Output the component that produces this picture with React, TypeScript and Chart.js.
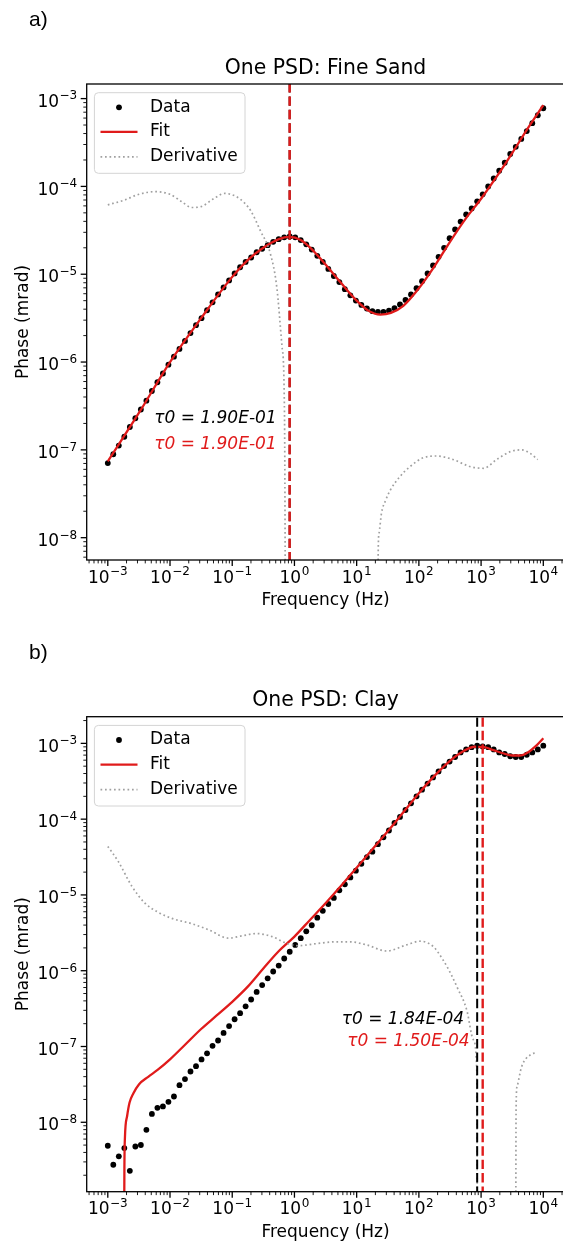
import React, { useEffect, useRef } from 'react';
import { Chart, registerables } from 'chart.js';

Chart.register(...registerables);

// ---------- data ----------
const FREQ = [
  1.000e-3, 1.226e-3, 1.504e-3, 1.844e-3, 2.262e-3, 2.774e-3, 3.402e-3, 4.172e-3, 5.116e-3, 6.274e-3,
  7.694e-3, 9.435e-3, 1.157e-2, 1.419e-2, 1.740e-2, 2.134e-2, 2.617e-2, 3.210e-2, 3.936e-2, 4.827e-2,
  5.920e-2, 7.260e-2, 8.903e-2, 0.1092, 0.1339, 0.1642, 0.2014, 0.2469, 0.3028, 0.3714,
  0.4554, 0.5585, 0.6849, 0.8396, 1.030, 1.263, 1.549, 1.899, 2.329, 2.856,
  3.503, 4.296, 5.268, 6.460, 7.922, 9.715, 11.91, 14.61, 17.92, 21.97,
  26.95, 33.05, 40.53, 49.70, 60.95, 74.74, 91.66, 112.4, 137.9, 169.0,
  207.3, 254.2, 311.7, 382.3, 468.8, 574.9, 705.0, 864.6, 1060, 1300,
  1595, 1956, 2398, 2941, 3607, 4423, 5425, 6652, 8158, 10000,
];

const SAND_DATA = [
  7.08e-8, 8.91e-8, 1.12e-7, 1.41e-7, 1.82e-7, 2.29e-7, 2.88e-7, 3.63e-7, 4.68e-7, 5.89e-7,
  7.41e-7, 9.33e-7, 1.15e-6, 1.41e-6, 1.74e-6, 2.14e-6, 2.63e-6, 3.16e-6, 3.89e-6, 4.79e-6,
  5.89e-6, 7.08e-6, 8.51e-6, 1.02e-5, 1.20e-5, 1.38e-5, 1.55e-5, 1.78e-5, 1.95e-5, 2.14e-5,
  2.34e-5, 2.51e-5, 2.63e-5, 2.69e-5, 2.63e-5, 2.45e-5, 2.19e-5, 1.91e-5, 1.62e-5, 1.38e-5,
  1.15e-5, 9.55e-6, 8.13e-6, 6.76e-6, 5.75e-6, 5.01e-6, 4.47e-6, 4.07e-6, 3.80e-6, 3.72e-6,
  3.72e-6, 3.85e-6, 4.10e-6, 4.52e-6, 5.10e-6, 5.89e-6, 6.92e-6, 8.32e-6, 1.02e-5, 1.26e-5,
  1.58e-5, 2.00e-5, 2.57e-5, 3.24e-5, 3.98e-5, 4.79e-5, 5.62e-5, 6.76e-5, 8.13e-5, 1.00e-4,
  1.23e-4, 1.51e-4, 1.86e-4, 2.34e-4, 2.82e-4, 3.47e-4, 4.27e-4, 5.25e-4, 6.46e-4, 7.76e-4,
];

const SAND_FIT_F = [
  1.0e-3, 3.162e-3, 1.0e-2, 3.162e-2, 0.1, 0.1778, 0.3162, 0.5623, 0.8318, 1.259,
  1.995, 3.162, 5.623, 10, 15.85, 23.99, 35.48, 56.23, 100, 177.8,
  316.2, 562.3, 1000, 1778, 3162, 5623, 10000,
];
const SAND_FIT = [
  7.41e-8, 2.63e-7, 1.00e-6, 3.16e-6, 9.33e-6, 1.45e-5, 2.00e-5, 2.51e-5, 2.66e-5, 2.45e-5,
  1.86e-5, 1.29e-5, 7.94e-6, 5.01e-6, 3.80e-6, 3.47e-6, 3.63e-6, 4.37e-6, 6.92e-6, 1.23e-5,
  2.34e-5, 4.27e-5, 7.24e-5, 1.29e-4, 2.40e-4, 4.57e-4, 8.41e-4,
];

const SAND_DER_F = [
  1.000e-3, 1.778e-3, 3.162e-3, 5.623e-3, 1.000e-2, 1.585e-2, 2.239e-2, 3.162e-2, 5.012e-2, 7.586e-2,
  0.1122, 0.1585, 0.1995, 0.2818, 0.4074, 0.5188, 0.6310, 0.6918, 0.7244, 3.0,
  21.8, 22.2, 22.9, 25.1, 29.5, 34.67, 50.12, 72.44, 117.5, 195.0,
  354.8, 660.7, 1096, 1778, 2951, 4467, 6166, 8128,
];
const SAND_DER = [
  6.17e-5, 6.92e-5, 8.13e-5, 8.71e-5, 8.13e-5, 6.61e-5, 5.75e-5, 5.89e-5, 7.24e-5, 8.32e-5,
  7.76e-5, 6.46e-5, 5.25e-5, 3.16e-5, 1.74e-5, 7.24e-6, 1.51e-6, 2.63e-7, 1e-10, null,
  1e-10, 6.9e-9, 1.12e-8, 1.91e-8, 2.70e-8, 3.47e-8, 5.01e-8, 6.46e-8, 8.13e-8, 8.51e-8,
  7.76e-8, 6.46e-8, 6.17e-8, 7.76e-8, 9.55e-8, 1.00e-7, 9.12e-8, 7.76e-8,
];

const CLAY_DATA = [
  4.90e-9, 2.75e-9, 3.55e-9, 4.57e-9, 2.29e-9, 4.79e-9, 5.01e-9, 7.94e-9, 1.29e-8, 1.55e-8,
  1.62e-8, 1.86e-8, 2.19e-8, 3.09e-8, 3.72e-8, 4.68e-8, 5.50e-8, 6.76e-8, 8.13e-8, 1.02e-7,
  1.20e-7, 1.51e-7, 1.86e-7, 2.29e-7, 2.75e-7, 3.39e-7, 4.17e-7, 5.25e-7, 6.46e-7, 7.94e-7,
  9.77e-7, 1.17e-6, 1.45e-6, 1.78e-6, 2.19e-6, 2.69e-6, 3.31e-6, 3.98e-6, 5.01e-6, 6.17e-6,
  7.59e-6, 9.12e-6, 1.15e-5, 1.38e-5, 1.70e-5, 2.09e-5, 2.57e-5, 3.16e-5, 3.72e-5, 4.68e-5,
  5.75e-5, 7.08e-5, 8.91e-5, 1.07e-4, 1.32e-4, 1.62e-4, 2.00e-4, 2.45e-4, 2.95e-4, 3.55e-4,
  4.27e-4, 5.01e-4, 5.75e-4, 6.61e-4, 7.59e-4, 8.32e-4, 8.91e-4, 9.33e-4, 9.12e-4, 8.91e-4,
  8.32e-4, 7.59e-4, 7.24e-4, 6.76e-4, 6.61e-4, 6.61e-4, 7.08e-4, 7.59e-4, 8.32e-4, 9.33e-4,
];

const CLAY_FIT_F = [
  1.820e-3, 1.849e-3, 1.884e-3, 2.042e-3, 2.239e-3, 2.570e-3, 3.162e-3, 4.467e-3, 6.310e-3, 1.0e-2,
  1.778e-2, 3.162e-2, 5.623e-2, 0.1, 0.1778, 0.3162, 0.5623, 1.0, 1.778, 3.162,
  5.623, 10, 17.78, 31.62, 56.23, 100, 177.8, 316.2, 501.2, 794.3,
  1122, 1585, 2239, 3162, 4169, 5623, 7943, 10000,
];
const CLAY_FIT = [
  1e-10, 2.51e-9, 6.17e-9, 1.20e-8, 1.82e-8, 2.40e-8, 3.16e-8, 3.98e-8, 4.90e-8, 6.76e-8,
  1.07e-7, 1.70e-7, 2.57e-7, 3.89e-7, 6.17e-7, 1.07e-6, 1.82e-6, 2.82e-6, 4.68e-6, 7.76e-6,
  1.32e-5, 2.29e-5, 3.98e-5, 6.92e-5, 1.23e-4, 2.19e-4, 3.72e-4, 5.89e-4, 7.76e-4, 9.02e-4,
  8.91e-4, 8.13e-4, 7.41e-4, 6.92e-4, 6.92e-4, 7.59e-4, 9.55e-4, 1.17e-3,
];

const CLAY_DER_F = [
  1.000e-3, 1.479e-3, 2.455e-3, 3.981e-3, 6.166e-3, 1.072e-2, 2.239e-2, 4.169e-2, 8.710e-2, 0.1413,
  0.2455, 0.4365, 0.7079, 1.148, 2.399, 4.266, 7.943, 14.45, 30.20, 63.10,
  104.7, 169.8, 245.5, 331.1, 407.4, 588.8, 749.9, 851.1, 881.0, 2000,
  3589, 3650, 3800, 4467, 6166, 7762,
];
const CLAY_DER = [
  4.37e-5, 2.75e-5, 1.29e-5, 7.76e-6, 6.03e-6, 4.90e-6, 4.17e-6, 3.47e-6, 2.69e-6, 2.88e-6,
  3.09e-6, 2.82e-6, 2.34e-6, 2.14e-6, 2.29e-6, 2.40e-6, 2.40e-6, 2.19e-6, 1.82e-6, 2.19e-6,
  2.45e-6, 2.09e-6, 1.38e-6, 8.91e-7, 6.17e-7, 3.02e-7, 1.23e-7, 4.90e-8, 1e-11, null,
  1e-11, 1.5e-8, 3.0e-8, 5.37e-8, 7.76e-8, 8.32e-8,
];

const TAU_SAND = [1.90e-1, 1.90e-1]; // [data, fit]
const TAU_CLAY = [1.84e-4, 1.50e-4];

const X_LIMITS = [4.581e-4, 2.183e4];
const Y_LIMITS_SAND = [5.57e-9, 1.466e-3];
const Y_LIMITS_CLAY = [1.213e-9, 2.249e-3];
const NOTE_Y = [2.29e-7, 1.15e-7];

const LEGEND_LABELS = ['Data', 'Fit', 'Derivative'];

// ---------- styling ----------
const FONT = "'DejaVu Sans', sans-serif";
const FS = 17;
const SFS = 12;
const TFS = 20.4;
const RED = '#e01b1b';
const GREY = '#a0a0a0';

const tauToFreq = (t: number) => 1 / (2 * Math.PI * t);

function drawPow(ctx: CanvasRenderingContext2D, e: number, x: number, baseY: number, align: string) {
  const sup = (e < 0 ? '\u2212' : '') + Math.abs(e);
  ctx.font = `${FS}px ${FONT}`;
  const wb = ctx.measureText('10').width;
  ctx.font = `${SFS}px ${FONT}`;
  const ws = ctx.measureText(sup).width;
  const w = wb + ws + 0.5;
  const x0 = align === 'center' ? x - w / 2 : x - w;
  ctx.textAlign = 'left';
  ctx.textBaseline = 'alphabetic';
  ctx.fillStyle = '#000';
  ctx.font = `${FS}px ${FONT}`;
  ctx.fillText('10', x0, baseY);
  ctx.font = `${SFS}px ${FONT}`;
  ctx.fillText(sup, x0 + wb + 0.5, baseY - 7.3);
}

function logTicks(min: number, max: number) {
  const out: { v: number; e: number; major: boolean }[] = [];
  for (let e = Math.floor(Math.log10(min)); e <= Math.ceil(Math.log10(max)); e++) {
    for (let m = 1; m < 10; m++) {
      const v = m * Math.pow(10, e);
      if (v >= min && v <= max) out.push({ v, e, major: m === 1 });
    }
  }
  return out;
}

function drawDecor(chart: any, p: any) {
  const { ctx, chartArea: ca } = chart;
  const xs = chart.scales.x;
  const ys = chart.scales.y;
  ctx.save();

  // annotations
  ctx.font = `italic ${FS}px ${FONT}`;
  ctx.textAlign = 'right';
  ctx.textBaseline = 'middle';
  p.notes.forEach((n: any) => {
    ctx.fillStyle = n.color;
    ctx.fillText(n.text, xs.getPixelForValue(n.f) - 13, ys.getPixelForValue(n.y));
  });

  // spines
  ctx.strokeStyle = '#000';
  ctx.lineWidth = 1.3;
  ctx.strokeRect(ca.left, ca.top, ca.right - ca.left, ca.bottom - ca.top);

  // x ticks
  logTicks(xs.min, xs.max).forEach((t) => {
    const px = xs.getPixelForValue(t.v);
    ctx.beginPath();
    ctx.lineWidth = t.major ? 1.3 : 0.9;
    ctx.moveTo(px, ca.bottom);
    ctx.lineTo(px, ca.bottom + (t.major ? 6 : 3.4));
    ctx.stroke();
    if (t.major) drawPow(ctx, t.e, px, ca.bottom + 22.7, 'center');
  });
  // y ticks
  logTicks(ys.min, ys.max).forEach((t) => {
    const py = ys.getPixelForValue(t.v);
    ctx.beginPath();
    ctx.lineWidth = t.major ? 1.3 : 0.9;
    ctx.moveTo(ca.left, py);
    ctx.lineTo(ca.left - (t.major ? 6 : 3.4), py);
    ctx.stroke();
    if (t.major) drawPow(ctx, t.e, ca.left - 9.5, py + 8.2, 'right');
  });

  // axis titles
  ctx.fillStyle = '#000';
  ctx.font = `${FS}px ${FONT}`;
  ctx.textAlign = 'center';
  ctx.textBaseline = 'middle';
  ctx.fillText('Frequency (Hz)', (ca.left + ca.right) / 2, ca.bottom + 40.5);
  ctx.save();
  ctx.translate(23.3, (ca.top + ca.bottom) / 2);
  ctx.rotate(-Math.PI / 2);
  ctx.fillText('Phase (mrad)', 0, 0);
  ctx.restore();

  // title
  ctx.font = `${TFS}px ${FONT}`;
  ctx.fillText(p.title, (ca.left + ca.right) / 2, ca.top - 15.5);

  // panel label
  ctx.font = `21px 'Liberation Sans', Arial, sans-serif`;
  ctx.textAlign = 'left';
  ctx.fillText(p.label, 29, ca.top - 63.8);

  // legend
  const lx = ca.left + 7.7;
  const ly = ca.top + 8.7;
  const lw = 150.6;
  const lh = 80.6;
  ctx.beginPath();
  if ((ctx as any).roundRect) (ctx as any).roundRect(lx, ly, lw, lh, 4);
  else ctx.rect(lx, ly, lw, lh);
  ctx.fillStyle = 'rgba(255,255,255,0.8)';
  ctx.fill();
  ctx.strokeStyle = '#d4d4d4';
  ctx.lineWidth = 1;
  ctx.stroke();
  const rows = [23.3, 47.9, 72.9].map((d) => ca.top + d);
  const h0 = ca.left + 13.8;
  const h1 = ca.left + 50.8;
  ctx.fillStyle = '#000';
  ctx.beginPath();
  ctx.arc((h0 + h1) / 2, rows[0], 2.9, 0, Math.PI * 2);
  ctx.fill();
  ctx.beginPath();
  ctx.strokeStyle = RED;
  ctx.lineWidth = 2.3;
  ctx.moveTo(h0, rows[1]);
  ctx.lineTo(h1, rows[1]);
  ctx.stroke();
  ctx.beginPath();
  ctx.strokeStyle = GREY;
  ctx.lineWidth = 1.7;
  ctx.setLineDash([1.7, 2.8]);
  ctx.moveTo(h0, rows[2]);
  ctx.lineTo(h1, rows[2]);
  ctx.stroke();
  ctx.setLineDash([]);
  ctx.fillStyle = '#000';
  ctx.font = `${FS}px ${FONT}`;
  ctx.textAlign = 'left';
  ctx.textBaseline = 'middle';
  LEGEND_LABELS.forEach((t, i) => ctx.fillText(t, ca.left + 63.3, rows[i]));

  ctx.restore();
}

function pts(fs: number[], vs: (number | null)[]) {
  return fs.map((f, i) => ({ x: f, y: vs[i] }));
}

function buildChart(canvas: HTMLCanvasElement, p: any) {
  const fBlack = tauToFreq(p.tau[0]);
  const fRed = tauToFreq(p.tau[1]);
  const vline = (f: number, color: string, width: number, order: number) => ({
    label: 'v',
    data: [{ x: f, y: p.yLim[0] / 100 }, { x: f, y: p.yLim[1] * 100 }],
    showLine: true,
    borderColor: color,
    borderWidth: width,
    borderDash: [9.4, 4],
    pointRadius: 0,
    order,
  });
  const fmt = (t: number) => t.toExponential(2).toUpperCase().replace(/E([+-])(\d)$/, 'E$10$2');
  const notes = [
    { text: `\u03c40 = ${fmt(p.tau[0])}`, color: '#000', f: fBlack, y: NOTE_Y[0] },
    { text: `\u03c40 = ${fmt(p.tau[1])}`, color: RED, f: fRed, y: NOTE_Y[1] },
  ];
  const decor = { id: 'decor', afterDatasetsDraw: (chart: any) => drawDecor(chart, { ...p, notes }) };
  return new Chart(canvas, {
    type: 'scatter',
    data: {
      datasets: [
        {
          label: 'Data', data: pts(FREQ, p.data), showLine: false, pointRadius: 2.9, pointHoverRadius: 2.9,
          pointBackgroundColor: '#000', pointBorderWidth: 0, order: 5,
        },
        {
          label: 'Fit', data: pts(p.fitF, p.fit), showLine: true, borderColor: RED, borderWidth: 2.3,
          pointRadius: 0, cubicInterpolationMode: 'monotone', order: 4,
        },
        {
          label: 'Derivative', data: pts(p.derF, p.der), showLine: true, borderColor: GREY, borderWidth: 1.7,
          borderDash: [1.7, 2.8], pointRadius: 0, cubicInterpolationMode: 'monotone', spanGaps: false, order: 3,
        },
        vline(fBlack, '#000', 2.0, 2),
        vline(fRed, RED, 2.4, 1),
      ] as any,
    },
    options: {
      animation: false,
      responsive: false,
      devicePixelRatio: 1,
      events: [],
      layout: { padding: { left: 0, top: p.top, right: 570 - 564.4, bottom: 0 } },
      plugins: { legend: { display: false }, tooltip: { enabled: false } },
      scales: {
        x: {
          type: 'logarithmic', min: X_LIMITS[0], max: X_LIMITS[1],
          grid: { display: false }, border: { display: false }, ticks: { display: false },
          afterFit: (s: any) => { s.height = 622 - p.bottom; },
        },
        y: {
          type: 'logarithmic', min: p.yLim[0], max: p.yLim[1],
          grid: { display: false }, border: { display: false }, ticks: { display: false },
          afterFit: (s: any) => { s.width = 86.7; },
        },
      },
    } as any,
    plugins: [decor],
  });
}

const PANEL_A = {
  title: 'One PSD: Fine Sand', label: 'a)', data: SAND_DATA, fitF: SAND_FIT_F, fit: SAND_FIT,
  derF: SAND_DER_F, der: SAND_DER, tau: TAU_SAND, yLim: Y_LIMITS_SAND, top: 84, bottom: 560,
};
const PANEL_B = {
  title: 'One PSD: Clay', label: 'b)', data: CLAY_DATA, fitF: CLAY_FIT_F, fit: CLAY_FIT,
  derF: CLAY_DER_F, der: CLAY_DER, tau: TAU_CLAY, yLim: Y_LIMITS_CLAY, top: 94.7, bottom: 569.7,
};

export default function App() {
  const refA = useRef<HTMLCanvasElement>(null);
  const refB = useRef<HTMLCanvasElement>(null);
  useEffect(() => {
    document.body.style.margin = '0';
    const a = buildChart(refA.current as HTMLCanvasElement, PANEL_A);
    const b = buildChart(refB.current as HTMLCanvasElement, PANEL_B);
    return () => {
      a.destroy();
      b.destroy();
    };
  }, []);
  return (
    <div style={{ position: 'relative', width: 563, height: 1244, overflow: 'hidden', background: '#fff' }}>
      <canvas ref={refA} width={570} height={622} style={{ position: 'absolute', left: 0, top: 0, width: 570, height: 622 }} />
      <canvas ref={refB} width={570} height={622} style={{ position: 'absolute', left: 0, top: 622, width: 570, height: 622 }} />
    </div>
  );
}
